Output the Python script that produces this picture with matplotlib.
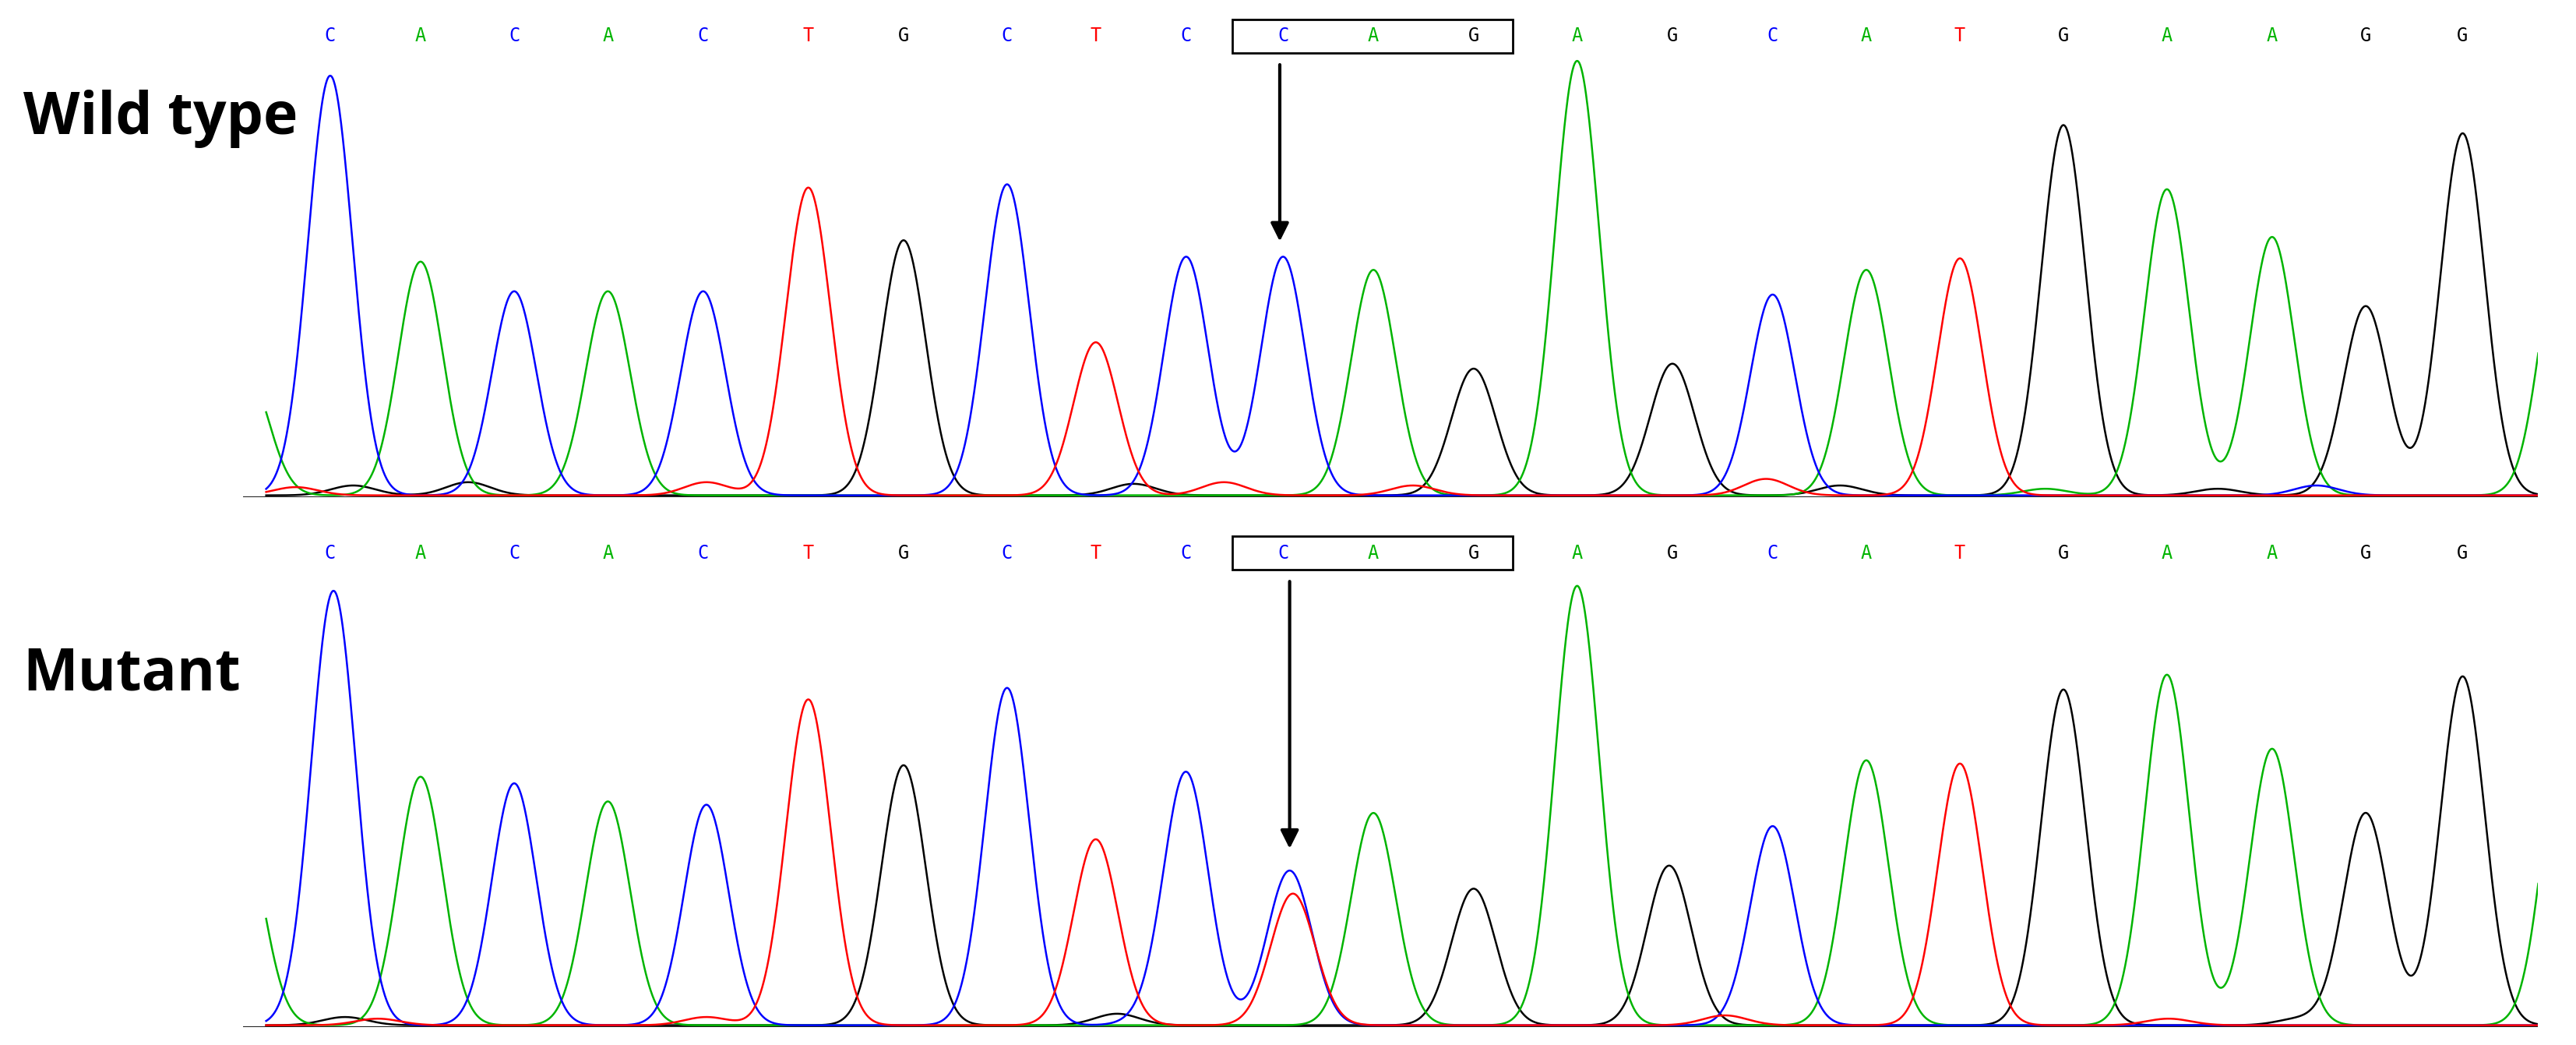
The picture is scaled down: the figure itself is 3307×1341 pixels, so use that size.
import numpy as np
import matplotlib.pyplot as plt
from matplotlib.patches import Rectangle

# reference layout units (display px of the 1568 x 635 view)
W, H = 1568.0, 635.0

bases = list("CACACTGCTCCAGAGCATGAAGG")
base_x = [201, 256, 313, 370, 428, 492, 550, 613, 667, 722, 781, 836, 897,
          960, 1018, 1079, 1136, 1193, 1256, 1319, 1383, 1440, 1499]

# peak heights (px above baseline), one per called base
wt_heights = [255, 142, 124, 124, 124, 187, 155, 189, 93, 145, 145, 137, 77,
              264, 80, 122, 137, 144, 225, 186, 157, 115, 220]
mut_heights = [264, 151, 147, 136, 134, 198, 158, 205, 113, 153, 94, 129, 83,
               267, 97, 121, 161, 159, 204, 213, 168, 129, 212]
mut_x = [203, 256, 313, 370, 430, 492, 550, 613, 667, 722, 785, 836, 897,
         960, 1016, 1079, 1136, 1193, 1256, 1319, 1383, 1440, 1499]

# extra peaks: (channel, x, height)
wt_extra = [("A", 150, 75), ("A", 1560, 160),
            ("T", 180, 5), ("T", 430, 8), ("T", 745, 8), ("T", 860, 6), ("T", 1075, 10),
            ("G", 215, 6), ("G", 285, 8), ("G", 690, 7), ("G", 1120, 6), ("G", 1350, 4),
            ("C", 1410, 6), ("A", 1245, 4)]
mut_extra = [("T", 787, 80), ("A", 147, 120), ("A", 1562, 190),
             ("T", 230, 4), ("T", 430, 5), ("T", 1050, 6), ("T", 1320, 4),
             ("G", 210, 5), ("G", 680, 7), ("G", 1400, 4), ("C", 700, 4)]

wt_box = (750, 921)
wt_arrow_x = 779
mut_arrow_x = 785

colors = {"A": "#00b400", "C": "#0000ff", "G": "#000000", "T": "#ff0000"}
SIG = 13.5

fig = plt.figure(figsize=(33.07, 13.41), dpi=100)


def panel(baseline_y, heights, xs, extra, label, label_y, letter_y, arrow_top, arrow_bot, arrow_x):
    ax = fig.add_axes([148 / W, (H - baseline_y) / H, (1545 - 148) / W, 290 / H])
    ax.set_xlim(148, 1545)
    ax.set_ylim(0, 290)
    ax.axis("off")
    x = np.linspace(162, 1545, 4000)
    curves = {k: np.zeros_like(x) for k in "ACGT"}
    for b, px, h in zip(bases, xs, heights):
        curves[b] += h * np.exp(-0.5 * ((x - px) / SIG) ** 2)
    for b, px, h in extra:
        curves[b] += h * np.exp(-0.5 * ((x - px) / SIG) ** 2)
    for b in "GACT":
        ax.plot(x, curves[b] + 1, color=colors[b], lw=1.8)
    ax.plot([148, 1545], [0, 0], color="black", lw=2)
    top_y = baseline_y - letter_y
    for b, px in zip(bases, base_x):
        ax.text(px, top_y, b, color=colors[b], ha="center", va="center",
                fontsize=17, family="DejaVu Sans Mono", clip_on=False)
    ax.add_patch(Rectangle((wt_box[0], top_y - 10), wt_box[1] - wt_box[0], 20,
                           fill=False, ec="black", lw=2, clip_on=False))
    ax.annotate("", xy=(arrow_x, baseline_y - arrow_bot), xytext=(arrow_x, baseline_y - arrow_top),
                arrowprops=dict(arrowstyle="-|>", color="black", lw=3, mutation_scale=35),
                annotation_clip=False)
    fig.text(14 / W, 1 - label_y / H, label, fontsize=54, fontweight="bold",
             family="Open Sans", ha="left", va="center")


panel(302, wt_heights, base_x, wt_extra, "Wild type", 72, 22, 38, 148, wt_arrow_x)
panel(624, mut_heights, mut_x, mut_extra, "Mutant", 410, 336, 352, 517, mut_arrow_x)

fig.savefig("out.png", dpi=100, facecolor="white")
